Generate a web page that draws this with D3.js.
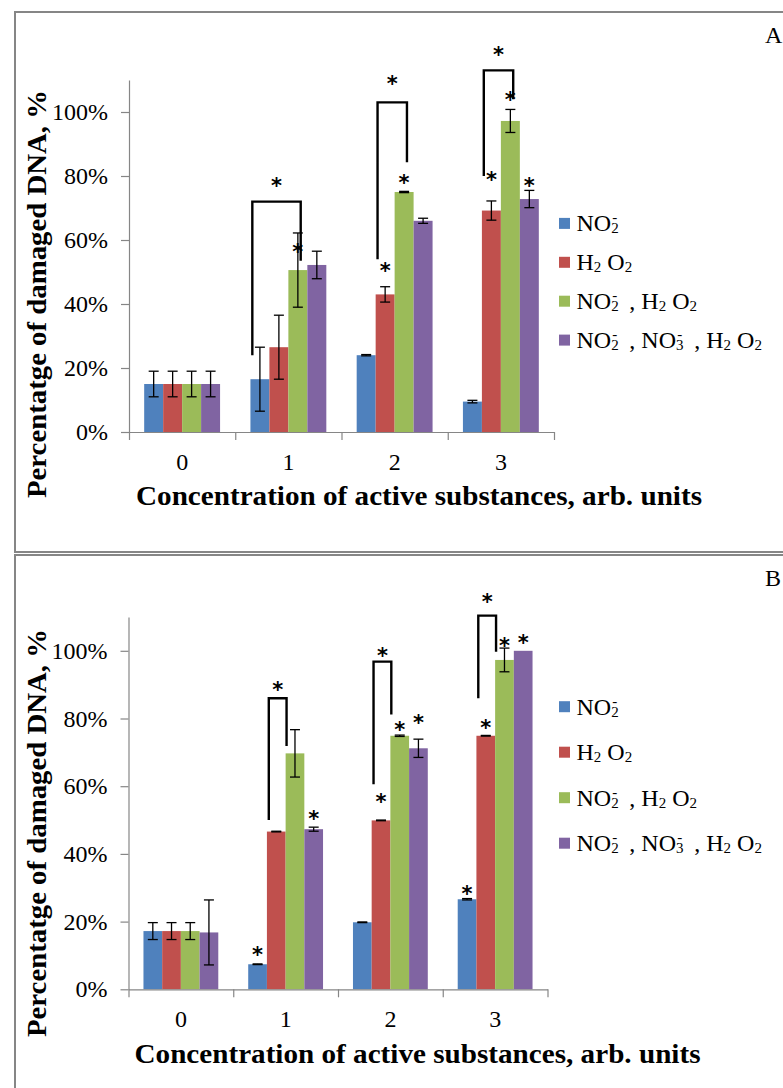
<!DOCTYPE html>
<html lang="en">
<head>
<meta charset="utf-8">
<title>Percentage of damaged DNA</title>
<script src="https://d3js.org/d3.v7.min.js"></script>
<style>
body { margin: 0; background: #fff; }
.axis path, .axis line { stroke: #868686; stroke-width: 1.2px; }
</style>
</head>
<body>
<div id="chart"></div>
<script>

// categories and series
var categories = ["0", "1", "2", "3"];
var seriesNames = ["NO2-", "H2O2", "NO2-, H2O2", "NO2-, NO3-, H2O2"];
// "_" = next char is a subscript, "^" = next char sits above the previous subscript
var legendLabels = ["NO_2^-", "H_2 O_2", "NO_2^-  , H_2 O_2", "NO_2^-  , NO_3^-  , H_2 O_2"];
var colors = ["#4F81BD", "#C0504D", "#9BBB59", "#8064A2"];
var yTicks = [0, 20, 40, 60, 80, 100];
var xTitle = "Concentration of active substances, arb. units";
var yTitle = "Percentatge of damaged DNA, %";

// Panel A, % of damaged DNA per concentration
var no2A   = [15, 16.5, 24, 9.5];
var h2o2A  = [15, 26.5, 43, 69.2];
var mixA   = [15, 50.6, 75, 97.2];
var mix3A  = [15, 52.2, 66, 72.8];
// error bars (+/-)
var no2ErrA  = [4, 10, 0.2, 0.4];
var h2o2ErrA = [4, 10, 2.4, 3];
var mixErrA  = [4, 11.6, 0.2, 3.6];
var mix3ErrA = [4, 4.3, 0.8, 2.7];
// stars over bars: [category, series, level]
var starsA = [[1, 2, 57.5], [2, 1, 51.5], [2, 2, 79], [3, 1, 80], [3, 2, 105], [3, 3, 78]];
// brackets: [category, from series, to series, top, left end, right end, star level]
var bracketsA = [[1, 0, 2, 72, 24, 53.5, 78], [2, 1, 2, 103, 54, 84.3, 110], [3, 1, 2, 113, 80, 104, 119]];

// Panel B
var no2B   = [17.2, 7.4, 19.8, 26.6];
var h2o2B  = [17.2, 46.6, 49.9, 74.9];
var mixB   = [17.2, 69.7, 74.9, 97.3];
var mix3B  = [16.8, 47.3, 71.2, 100];
var no2ErrB  = [2.5, 0.1, 0.1, 0.2];
var h2o2ErrB = [2.5, 0.1, 0.1, 0.1];
var mixErrB  = [2.5, 7, 0.2, 3.5];
var mix3ErrB = [9.6, 0.6, 2.7, null];
var starsB = [[1, 0, 11.3], [1, 3, 51.4], [2, 1, 56.6], [2, 2, 77.9], [2, 3, 79.8], [3, 0, 29.3], [3, 1, 78.3], [3, 2, 102.7], [3, 3, 103.5]];
var bracketsB = [[1, 1, 2, 86, 50, 71.9, 89.6], [2, 1, 2, 96.8, 60.6, 81.2, 99.7], [3, 1, 2, 110.4, 86, 99.7, 115.5]];

var svg = d3.select("#chart").append("svg")
  .attr("width", 783)
  .attr("height", 1088)
  .style("display", "block");

var serif = "Liberation Serif, Times New Roman, serif";
var starFont = "DejaVu Sans, sans-serif";

// writes a chemical formula with sub/superscripts into a text element
function formula(sel, str, size) {
  var small = Math.round(size * 0.62);
  var cur = 0, run = "";
  function flush() {
    if (!run) return;
    sel.append("tspan").attr("dy", -cur).text(run.replace(/ /g, "\u00a0"));
    cur = 0; run = "";
  }
  for (var i = 0; i < str.length; i++) {
    var c = str[i];
    if (c === "_" || c === "^") {
      flush();
      var off = c === "_" ? 2 : -9;
      var t = sel.append("tspan").attr("font-size", small).attr("dy", off - cur).text(str[++i]);
      if (c === "^") t.attr("dx", -small * 0.42);
      cur = off;
    } else {
      run += c;
    }
  }
  flush();
}

function drawPanel(p) {
  var g = svg.append("g");

  // frame
  g.append("rect")
    .attr("x", 15).attr("y", p.boxTop)
    .attr("width", 820).attr("height", p.boxBottom - p.boxTop)
    .attr("fill", "none").attr("stroke", "#868686").attr("stroke-width", 2);

  g.append("text")
    .attr("x", 765).attr("y", p.letterY)
    .attr("font-family", serif).attr("font-size", 24)
    .text(p.letter);

  var x0 = d3.scaleBand().domain(categories).range(p.xRange).paddingInner(0).paddingOuter(0);
  var x1 = d3.scaleBand().domain(d3.range(seriesNames.length)).range([0, x0.bandwidth()])
    .paddingInner(0).paddingOuter(0.8);
  var xb = d3.scaleLinear().domain([0, categories.length]).range(p.xRange);
  var y = d3.scaleLinear().domain([0, 100]).range([p.y0, p.y100]);
  var bw = x1.bandwidth();

  // y axis
  var ya = d3.scaleLinear().domain([0, 110]).range([y(0), y(110)]);
  g.append("g").attr("class", "axis")
    .attr("transform", "translate(" + p.xRange[0] + ",0)")
    .call(d3.axisLeft(ya).tickValues(yTicks).tickFormat(function(d) { return d + "%"; })
      .tickSize(8).tickSizeOuter(0).tickPadding(13))
    .attr("font-family", serif).attr("font-size", 24)
    .selectAll("text").attr("fill", "#000");

  // bars
  p.values.forEach(function(vals, s) {
    g.append("g").selectAll("rect")
      .data(vals)
      .enter().append("rect")
        .attr("x", function(d, i) { return x0(categories[i]) + x1(s); })
        .attr("y", function(d) { return y(d); })
        .attr("width", bw)
        .attr("height", function(d) { return y(0) - y(d); })
        .attr("fill", colors[s]);
  });

  // x axis: boundary ticks, then labels at centres
  g.append("g").attr("class", "axis")
    .attr("transform", "translate(0," + y(0) + ")")
    .call(d3.axisBottom(xb).tickValues(d3.range(categories.length + 1)).tickFormat("")
      .tickSize(8).tickSizeOuter(0));
  var xl = g.append("g").attr("class", "axis")
    .attr("transform", "translate(0," + y(0) + ")")
    .call(d3.axisBottom(x0).tickSize(0).tickPadding(21))
    .attr("font-family", serif).attr("font-size", 24);
  xl.select(".domain").remove();
  xl.selectAll("text").attr("fill", "#000");

  // error bars
  p.errors.forEach(function(errs, s) {
    errs.forEach(function(e, i) {
      if (e === null) return;
      var cx = x0(categories[i]) + x1(s) + bw / 2;
      var v = p.values[s][i];
      var eg = g.append("g").attr("stroke", "#000").attr("stroke-width", 1.3);
      eg.append("line").attr("x1", cx).attr("x2", cx).attr("y1", y(v - e)).attr("y2", y(v + e));
      eg.append("line").attr("x1", cx - 5).attr("x2", cx + 5).attr("y1", y(v + e)).attr("y2", y(v + e));
      eg.append("line").attr("x1", cx - 5).attr("x2", cx + 5).attr("y1", y(v - e)).attr("y2", y(v - e));
    });
  });

  // significance brackets
  p.brackets.forEach(function(b) {
    var xl0 = x0(categories[b[0]]) + x1(b[1]) + bw * 0.1;
    var xr0 = x0(categories[b[0]]) + x1(b[2]) + bw * p.bracketRight;
    g.append("path")
      .attr("d", d3.line()([[xl0, y(b[4])], [xl0, y(b[3])], [xr0, y(b[3])], [xr0, y(b[5])]]))
      .attr("fill", "none").attr("stroke", "#000").attr("stroke-width", 2.4);
    g.append("text")
      .attr("x", (xl0 + xr0) / 2).attr("y", y(b[6]) + 11)
      .attr("text-anchor", "middle")
      .attr("font-family", starFont).attr("font-size", 21).attr("font-weight", "bold")
      .text("*");
  });

  // stars over bars
  g.append("g").selectAll("text")
    .data(p.stars)
    .enter().append("text")
      .attr("x", function(d) { return x0(categories[d[0]]) + x1(d[1]) + bw / 2; })
      .attr("y", function(d) { return y(d[2]) + 11; })
      .attr("text-anchor", "middle")
      .attr("font-family", starFont).attr("font-size", 21).attr("font-weight", "bold")
      .text("*");

  // legend
  var lg = g.append("g");
  legendLabels.forEach(function(lab, s) {
    var cy = p.legendY + s * p.legendStep;
    lg.append("rect").attr("x", 559).attr("y", cy - 5.5).attr("width", 11).attr("height", 11)
      .attr("fill", colors[s]);
    var t = lg.append("text").attr("x", 576.5).attr("y", cy + 8)
      .attr("font-family", serif).attr("font-size", 24);
    formula(t, lab, 24);
  });

  // axis titles
  g.append("text")
    .attr("x", p.xTitleX).attr("y", p.xTitleY)
    .attr("text-anchor", "middle")
    .attr("font-family", serif).attr("font-size", 28).attr("font-weight", "bold")
    .attr("textLength", 566).attr("lengthAdjust", "spacingAndGlyphs")
    .text(xTitle);
  g.append("text")
    .attr("transform", "translate(46," + p.yTitleY + ") rotate(-90)")
    .attr("text-anchor", "middle")
    .attr("font-family", serif).attr("font-size", 28).attr("font-weight", "bold")
    .attr("textLength", 408).attr("lengthAdjust", "spacingAndGlyphs")
    .text(yTitle);
}

drawPanel({
  letter: "A", letterY: 43, boxTop: 12, boxBottom: 552,
  xRange: [129, 554], y0: 432, y100: 112,
  values: [no2A, h2o2A, mixA, mix3A],
  errors: [no2ErrA, h2o2ErrA, mixErrA, mix3ErrA],
  stars: starsA, brackets: bracketsA, bracketRight: 0.65,
  legendY: 223.4, legendStep: 38.9,
  xTitleX: 419, xTitleY: 505, yTitleY: 294
});

drawPanel({
  letter: "B", letterY: 586, boxTop: 555, boxBottom: 1200,
  xRange: [128.5, 547.5], y0: 989.3, y100: 650.8,
  values: [no2B, h2o2B, mixB, mix3B],
  errors: [no2ErrB, h2o2ErrB, mixErrB, mix3ErrB],
  stars: starsB, brackets: bracketsB, bracketRight: 0.05,
  legendY: 706.7, legendStep: 45.5,
  xTitleX: 417.5, xTitleY: 1063, yTitleY: 833
});

</script>
</body>
</html>
